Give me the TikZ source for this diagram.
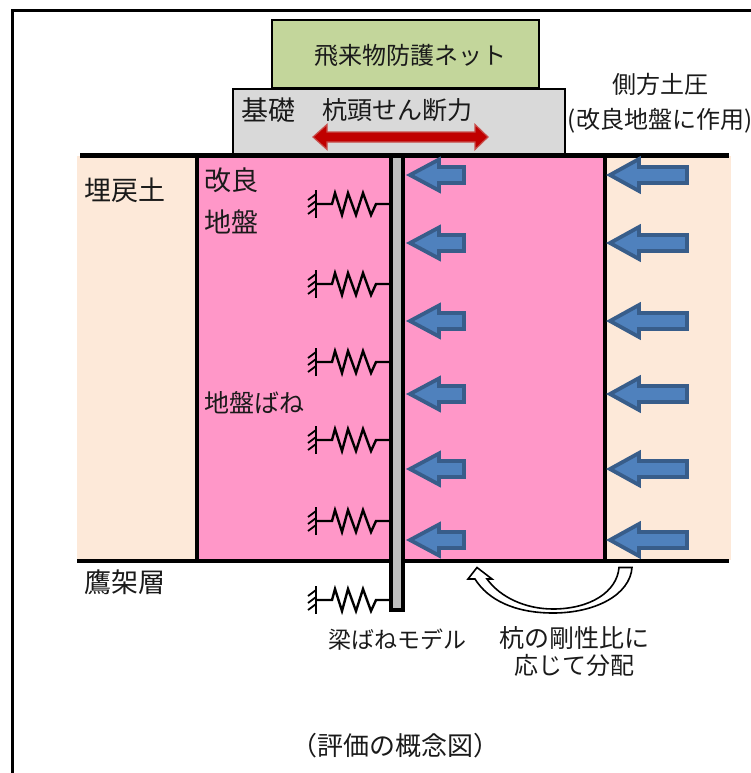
\documentclass[tikz,border=0pt]{standalone}
\usepackage{fontspec}
\setmainfont{Noto Sans CJK JP}
\definecolor{netg}{HTML}{C3D69B}
\definecolor{fndg}{HTML}{D9D9D9}
\definecolor{pinkg}{HTML}{FF97C8}
\definecolor{sandg}{HTML}{FDE9D9}
\definecolor{pileg}{HTML}{BFBFBF}
\definecolor{arrf}{HTML}{4F81BD}
\definecolor{arre}{HTML}{385D8A}
\definecolor{redf}{HTML}{C00000}
\definecolor{rede}{HTML}{C8504D}
\definecolor{txt}{HTML}{1A1A1A}
\tikzset{
  lbl/.style={inner sep=0pt,text=txt,font=\fontsize{#1}{#1}\selectfont},
  lbl/.default=24,
  box/.style={draw=black,line width=2.6pt,line join=miter,outer sep=0pt},
  load/.style={fill=arrf,draw=arre,line width=3.8pt,line join=miter,miter limit=3},
  pics/springy/.style={code={
    \draw[black,line width=2.4pt,line join=miter] (0,0) -- (16,0) -- (19,11) -- (26,-11) -- (32,11) -- (40,-11) -- (47,11) -- (55,-11) -- (60,0) -- (74,0);
    \draw[black,line width=2.4pt] (0,-14) -- (0,14);
    \draw[black,line width=1.8pt] (0,10) -- (-8,4) (0,3) -- (-8,-3) (0,-4) -- (-8,-10);
  }},
  pics/loadL/.style={code={
    \draw[load] (0,0) -- (29,15.5) -- (29,8) -- (54,8) -- (54,-8) -- (29,-8) -- (29,-15.5) -- cycle;
  }},
  pics/loadR/.style={code={
    \draw[load] (0,0) -- (29,16) -- (29,8) -- (77,8) -- (77,-8) -- (29,-8) -- (29,-16) -- cycle;
  }}
}
\begin{document}
\begin{tikzpicture}[x=1pt,y=1pt]
\useasboundingbox (0,0) rectangle (751,-773);
% frame
\draw[black,line width=2.2pt] (12.5,-773) -- (12.5,-10.5) -- (751,-10.5);
% ground
\fill[sandg] (77,-156) rectangle (731,-560);
\fill[pinkg] (197,-156) rectangle (605,-560);
\draw[black,line width=3.4pt] (197,-156) -- (197,-560) (605,-156) -- (605,-560);
% net and foundation
\node[box,fill=netg,minimum width=267pt,minimum height=68pt,anchor=north west,inner sep=0pt] (net) at (272,-20) {};
\node[box,fill=fndg,minimum width=332pt,minimum height=66pt,anchor=north west,inner sep=0pt] (fnd) at (233,-89) {};
\draw[black,line width=4.4pt] (80,-155.5) -- (729,-155.5);
\draw[black,line width=4.4pt] (77,-561) -- (729,-561);
% red arrow
\draw[fill=redf,draw=rede,line width=1.2pt,line join=miter] (313,-137) -- (327,-124.5) -- (327,-132) -- (475,-132) -- (475,-124.5) -- (488,-137) -- (475,-149.5) -- (475,-142) -- (327,-142) -- (327,-149.5) -- cycle;
% pile
\node[draw=black,line width=3.4pt,fill=pileg,minimum width=12pt,minimum height=454pt,anchor=north,inner sep=0pt,outer sep=0pt] (pile) at (396.8,-156) {};
% springs
\foreach \yy in {204,284,362,440,521,600} \pic at (316,-\yy) {springy};
% loads
\foreach \yy in {175,243,321,394,469,540} {
  \pic at (410,-\yy) {loadL};
  \pic at (610,-\yy) {loadR};
}
% curved arrow
\draw[fill=white,draw=black,line width=1.6pt,line join=miter] (632,-567.5) .. controls (630,-595) and (595,-613) .. (553,-613) .. controls (515,-613) and (488,-600) .. (475,-579) -- (468,-579) -- (477,-567.5) -- (492,-579) -- (487,-579) .. controls (500,-597) and (525,-609) .. (553,-609) .. controls (590,-609) and (617,-592) .. (619,-567.5) -- cycle;
% labels
\node[lbl] (tnet) at (410,-55) {飛来物防護ネット};
\node[lbl=27] (tfnd) at (268.5,-110) {基礎};
\node[lbl=25] (tshear) at (397,-110) {杭頭せん断力};
\node[lbl] (tlat) at (660.5,-84) {側方土圧};
\node[lbl] (tlat2) at (660,-121) {(改良地盤に作用)};
\node[lbl=27] (tback) at (124.5,-190) {埋戻土};
\node[lbl=27] (tkai) at (231.5,-180) {改良};
\node[lbl=27] (tji) at (231.5,-222) {地盤};
\node[lbl=25] (tspring) at (254,-403) {地盤ばね};
\node[lbl=27] (ttaka) at (125,-582) {鷹架層};
\node[lbl=23] (tbeam) at (397.5,-640) {梁ばねモデル};
\node[lbl=25] (tratio) at (574.5,-638) {杭の剛性比に};
\node[lbl] (tdist) at (574.5,-665) {応じて分配};
\node[lbl=26] (tcap) at (395,-746) {（評価の概念図）};
\end{tikzpicture}
\end{document}
